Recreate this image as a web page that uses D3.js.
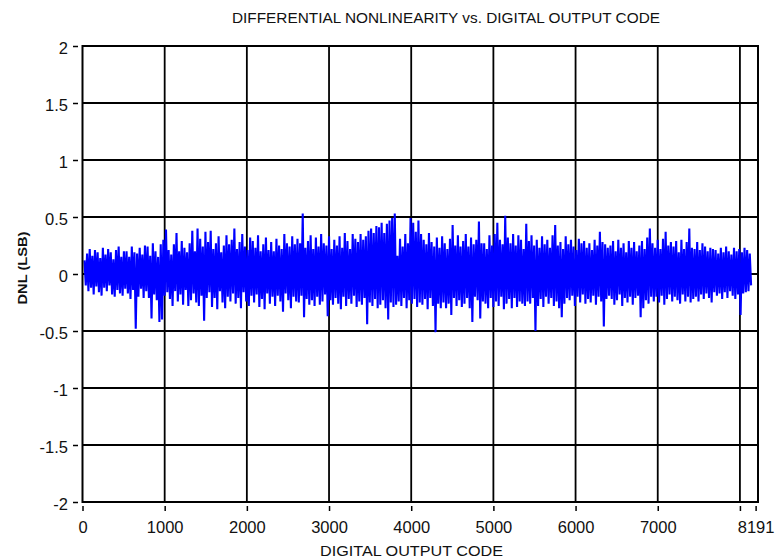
<!DOCTYPE html>
<html>
<head>
<meta charset="utf-8">
<script src="https://cdn.jsdelivr.net/npm/d3@7"></script>
<style>
  html, body { margin: 0; padding: 0; background: #fff; }
  svg { display: block; font-family: "Liberation Sans", Arial, sans-serif; }
</style>
</head>
<body>
<svg id="chart" width="775" height="560"></svg>
<script>
const title = 'DIFFERENTIAL NONLINEARITY vs. DIGITAL OUTPUT CODE';
const xTitle = 'DIGITAL OUTPUT CODE';
const yTitle = 'DNL (LSB)';

const xTicks = [0, 1000, 2000, 3000, 4000, 5000, 6000, 7000, 8000, 8191];
const xLabels = ['0', '1000', '2000', '3000', '4000', '5000', '6000', '7000', '', '8191'];
const xGrid = [1000, 2000, 3000, 4000, 5000, 6000, 7000, 8000];
const yTicks = [-2, -1.5, -1, -0.5, 0, 0.5, 1, 1.5, 2];
const yLabels = ['-2', '-1.5', '-1', '-0.5', '0', '0.5', '1', '1.5', '2'];
const yGrid = [-1.5, -1, -0.5, 0, 0.5, 1, 1.5];

// DNL, one value every 16 codes starting at code 24
const firstCode = 24;
const codeStep = 16;
const dnl = [
  0.12,-0.1,0.18,-0.15,0.22,-0.12,0.16,-0.18,0.21,-0.11,0.19,-0.16,0.14,-0.19,0.23,-0.12,
  0.17,-0.15,0.22,-0.1,0.19,-0.18,0.13,-0.2,0.21,-0.14,0.24,-0.17,0.15,-0.19,0.2,-0.13,
  0.2,-0.17,0.15,-0.22,0.24,-0.14,0.19,-0.48,0.18,-0.2,0.23,-0.13,0.17,-0.21,0.25,-0.15,
  0.24,-0.21,0.16,-0.39,0.27,-0.18,0.2,-0.23,0.15,-0.42,0.26,-0.4,0.3,-0.19,0.39,-0.16,
  0.21,-0.22,0.17,-0.28,0.26,-0.15,0.36,-0.24,0.2,-0.18,0.29,-0.27,0.23,-0.14,0.19,-0.28,
  0.27,-0.23,0.38,-0.17,0.2,-0.25,0.4,-0.28,0.31,-0.19,0.24,-0.41,0.37,-0.21,0.28,-0.16,
  0.38,-0.29,0.22,-0.21,0.27,-0.31,0.33,-0.15,0.19,-0.25,0.25,-0.3,0.34,-0.2,0.26,-0.24,
  0.3,-0.17,0.4,-0.26,0.22,-0.21,0.28,-0.3,0.35,-0.16,0.24,-0.24,0.21,-0.28,0.32,-0.19,
  0.29,-0.25,0.23,-0.18,0.34,-0.29,0.2,-0.22,0.26,-0.31,0.32,-0.17,0.21,-0.26,0.28,-0.2,
  0.2,-0.28,0.31,-0.19,0.25,-0.24,0.22,-0.33,0.35,-0.17,0.27,-0.23,0.24,-0.3,0.33,-0.2,
  0.26,-0.24,0.31,-0.25,0.27,-0.19,0.53,-0.38,0.23,-0.22,0.29,-0.27,0.34,-0.23,0.22,-0.28,
  0.32,-0.2,0.24,-0.27,0.35,-0.24,0.27,-0.18,0.25,-0.37,0.33,-0.23,0.22,-0.27,0.3,-0.21,
  0.25,-0.26,0.33,-0.31,0.23,-0.2,0.36,-0.28,0.29,-0.22,0.22,-0.26,0.35,-0.19,0.31,-0.29,
  0.28,-0.24,0.35,-0.27,0.3,-0.21,0.33,-0.44,0.38,-0.25,0.4,-0.28,0.36,-0.22,0.42,-0.3,
  0.41,-0.27,0.45,-0.23,0.36,-0.3,0.44,-0.4,0.47,-0.25,0.49,-0.29,0.53,-0.27,0.16,-0.24,
  0.31,-0.28,0.24,-0.21,0.35,-0.3,0.27,-0.23,0.49,-0.26,0.45,-0.22,0.37,-0.29,0.47,-0.25,
  0.35,-0.27,0.3,-0.22,0.26,-0.31,0.36,-0.21,0.28,-0.28,0.24,-0.51,0.32,-0.26,0.23,-0.3,
  0.33,-0.25,0.27,-0.3,0.22,-0.26,0.31,-0.36,0.43,-0.21,0.25,-0.28,0.34,-0.23,0.24,-0.29,
  0.29,-0.26,0.35,-0.21,0.24,-0.3,0.32,-0.42,0.26,-0.2,0.3,-0.23,0.46,-0.39,0.27,-0.24,
  0.27,-0.26,0.22,-0.3,0.34,-0.21,0.25,-0.29,0.35,-0.24,0.45,-0.28,0.3,-0.2,0.26,-0.31,
  0.51,-0.26,0.32,-0.22,0.27,-0.3,0.35,-0.21,0.25,-0.29,0.34,-0.24,0.3,-0.26,0.22,-0.28,
  0.44,-0.24,0.29,-0.26,0.34,-0.21,0.25,-0.5,0.3,-0.28,0.23,-0.22,0.33,-0.29,0.26,-0.2,
  0.3,-0.26,0.23,-0.21,0.34,-0.28,0.43,-0.24,0.25,-0.3,0.28,-0.38,0.22,-0.26,0.33,-0.21,
  0.26,-0.23,0.3,-0.19,0.24,-0.28,0.21,-0.2,0.31,-0.25,0.27,-0.18,0.29,-0.26,0.23,-0.22,
  0.27,-0.25,0.21,-0.19,0.3,-0.27,0.25,-0.2,0.37,-0.24,0.28,-0.46,0.26,-0.22,0.23,-0.19,
  0.25,-0.22,0.29,-0.27,0.2,-0.23,0.3,-0.18,0.23,-0.28,0.27,-0.21,0.19,-0.25,0.29,-0.2,
  0.23,-0.27,0.28,-0.21,0.2,-0.19,0.25,-0.38,0.29,-0.3,0.22,-0.23,0.32,-0.26,0.4,-0.2,
  0.27,-0.24,0.23,-0.2,0.3,-0.25,0.22,-0.19,0.31,-0.27,0.37,-0.22,0.25,-0.18,0.28,-0.24,
  0.24,-0.2,0.29,-0.23,0.19,-0.26,0.3,-0.18,0.22,-0.24,0.28,-0.2,0.4,-0.25,0.23,-0.22,
  0.22,-0.2,0.28,-0.24,0.21,-0.18,0.27,-0.22,0.24,-0.17,0.2,-0.21,0.23,-0.25,0.22,-0.16,
  0.21,-0.19,0.18,-0.17,0.23,-0.22,0.19,-0.16,0.24,-0.21,0.2,-0.15,0.17,-0.19,0.23,-0.22,
  0.2,-0.18,0.22,-0.36,0.19,-0.17,0.23,-0.16,0.21,-0.15,0.18,-0.1
];

const plot = {left: 82.5, right: 758, top: 46, bottom: 502};
const svg = d3.select('#chart');

const xScale = d3.scaleLinear().domain([0, 8220]).range([plot.left, plot.right]);
const yScale = d3.scaleLinear().domain([-2, 2]).range([plot.bottom, plot.top]);

// grid
svg.append('g')
  .selectAll('line')
  .data(xGrid)
  .join('line')
    .attr('x1', d => xScale(d)).attr('x2', d => xScale(d))
    .attr('y1', plot.top).attr('y2', plot.bottom)
    .attr('stroke', '#000').attr('stroke-width', 1.8);

svg.append('g')
  .selectAll('line')
  .data(yGrid)
  .join('line')
    .attr('x1', plot.left).attr('x2', plot.right)
    .attr('y1', d => yScale(d)).attr('y2', d => yScale(d))
    .attr('stroke', '#000').attr('stroke-width', 1.8);

// the DNL trace; the real plot has a point per code, so a wider stroke
// keeps the band solid like the original
const line = d3.line()
  .x((d, i) => xScale(firstCode + i * codeStep))
  .y(d => yScale(d));

svg.append('path')
  .datum(dnl)
  .attr('fill', 'none')
  .attr('stroke', '#0000ff')
  .attr('stroke-width', 2.1)
  .attr('stroke-linejoin', 'bevel')
  .attr('d', line);

svg.append('rect')
  .attr('x', plot.left).attr('y', plot.top)
  .attr('width', plot.right - plot.left).attr('height', plot.bottom - plot.top)
  .attr('fill', 'none').attr('stroke', '#000').attr('stroke-width', 2);

// axes
const xAxis = d3.axisBottom(xScale)
  .tickValues(xTicks)
  .tickFormat((d, i) => xLabels[i])
  .tickSize(5)
  .tickPadding(10);

svg.append('g')
  .attr('transform', `translate(0,${plot.bottom + 4})`)
  .call(xAxis)
  .call(g => g.select('.domain').remove())
  .call(g => g.selectAll('.tick line').attr('stroke', '#000').attr('stroke-width', 1.5))
  .call(g => g.selectAll('.tick text')
    .attr('fill', '#111')
    .style('font-size', '16.5px')
    .style('font-family', '"Liberation Sans", Arial, sans-serif'));

const yAxis = d3.axisLeft(yScale)
  .tickValues(yTicks)
  .tickFormat((d, i) => yLabels[i])
  .tickSize(5)
  .tickPadding(5);

svg.append('g')
  .attr('transform', `translate(${plot.left - 4.5},0)`)
  .call(yAxis)
  .call(g => g.select('.domain').remove())
  .call(g => g.selectAll('.tick line').attr('stroke', '#000').attr('stroke-width', 1.5))
  .call(g => g.selectAll('.tick text')
    .attr('dy', '0.45em')
    .attr('fill', '#111')
    .style('font-size', '16.5px')
    .style('font-family', '"Liberation Sans", Arial, sans-serif'));

// titles
svg.append('text')
  .attr('x', 446).attr('y', 23)
  .attr('text-anchor', 'middle')
  .attr('textLength', 428).attr('lengthAdjust', 'spacingAndGlyphs')
  .style('font-size', '15px')
  .attr('fill', '#111')
  .text(title);

svg.append('text')
  .attr('x', 411.5).attr('y', 556)
  .attr('text-anchor', 'middle')
  .attr('textLength', 183).attr('lengthAdjust', 'spacingAndGlyphs')
  .style('font-size', '15.5px')
  .attr('fill', '#111')
  .text(xTitle);

svg.append('text')
  .attr('transform', 'translate(27,268) rotate(-90)')
  .attr('text-anchor', 'middle')
  .attr('textLength', 73).attr('lengthAdjust', 'spacingAndGlyphs')
  .style('font-size', '13px')
  .style('font-weight', 'bold')
  .attr('fill', '#111')
  .text(yTitle);
</script>
</body>
</html>
